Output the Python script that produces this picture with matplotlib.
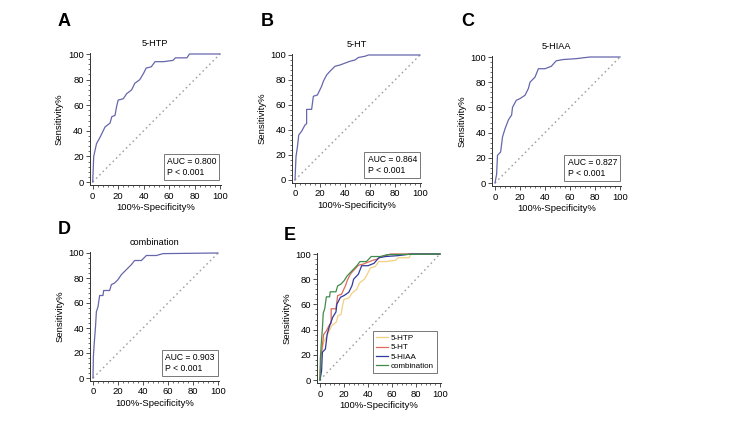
import matplotlib

matplotlib.use("Agg")

import matplotlib.pyplot as plt
from matplotlib.ticker import AutoMinorLocator, MultipleLocator

plt.rcParams["font.family"] = ["Liberation Sans", "DejaVu Sans"]

# ROC curves: 100%-Specificity% (x) vs Sensitivity% (y)
htp_x = [0, 0.8, 3, 5.8, 9.7, 13.6, 15, 17.5, 18.8, 20, 24, 26.7, 30.6, 33, 37, 40, 42,
         46, 49, 55.5, 63, 65, 74, 76, 100]
htp_y = [0, 20, 30, 35, 43, 46, 51, 52, 59, 64, 65, 69, 72, 77, 80, 85, 89, 90, 94, 94,
         95, 97, 97, 100, 100]

ht_x = [0, 0.8, 2, 3, 5.3, 8, 9.3, 9.3, 13.3, 14.7, 17.9, 21.3, 22.7, 25.3, 28, 32, 36,
        44, 48, 50.7, 56, 58.7, 100]
ht_y = [0, 18.7, 27, 36, 39, 44, 45, 56.5, 56.5, 67, 68, 75, 79, 84, 87, 91, 92, 95, 96,
        98, 99, 100, 100]

hiaa_x = [0, 1.3, 2, 4.5, 6, 8, 10.7, 13.3, 14, 17, 20, 24, 26.7, 28, 32, 34.7, 40, 45,
          49, 54.7, 65, 76, 100]
hiaa_y = [0, 7, 22, 24.6, 36.5, 43, 50, 54, 60, 65.6, 67, 69.6, 75, 80, 84, 90.7, 90.7,
          92.6, 97, 98, 98.7, 100, 100]

comb_x = [0, 0.3, 1, 2, 2.7, 4, 5.3, 8, 8.5, 13.3, 14.7, 17.3, 20, 22.7, 26.7, 30.7,
          33.3, 38.7, 42.7, 50.7, 56, 100]
comb_y = [0, 17, 28, 41, 53, 57, 66, 66, 70, 70, 74.7, 76, 78.7, 82.7, 86.7, 90.7, 94,
          94, 98, 98, 99.5, 100]

names = ["5-HTP", "5-HT", "5-HIAA", "combination"]
curves_x = [htp_x, ht_x, hiaa_x, comb_x]
curves_y = [htp_y, ht_y, hiaa_y, comb_y]
auc_values = ["0.800", "0.864", "0.827", "0.903"]
p_text = "P < 0.001"
panel_letters = ["A", "B", "C", "D", "E"]

ROC_COLOR = "#6666ad"
E_COLORS = ["#f4cf80", "#e06a5c", "#2f3a9c", "#3f8c4a"]
XLIM = (-2.2, 100.5)
YLIM = (-2.6, 101)

W, H = 755, 421
fig = plt.figure(figsize=(W / 100, H / 100), dpi=100)


def add_panel(x0, x100, y0, y100):
    # pixel positions of data 0 and 100 -> axes rectangle in figure fraction
    sx = (x100 - x0) / 100.0
    sy = (y0 - y100) / 100.0
    left = x0 + XLIM[0] * sx
    right = x0 + XLIM[1] * sx
    bottom = y0 - YLIM[0] * sy
    top = y0 - YLIM[1] * sy
    ax = fig.add_axes([left / W, 1 - bottom / H, (right - left) / W, (bottom - top) / H])
    ax.set_xlim(*XLIM)
    ax.set_ylim(*YLIM)
    for side in ("top", "right"):
        ax.spines[side].set_visible(False)
    for side in ("left", "bottom"):
        ax.spines[side].set_linewidth(0.7)
        ax.spines[side].set_color("#333333")
    ax.xaxis.set_major_locator(MultipleLocator(20))
    ax.yaxis.set_major_locator(MultipleLocator(20))
    ax.xaxis.set_minor_locator(AutoMinorLocator(5))
    ax.yaxis.set_minor_locator(AutoMinorLocator(5))
    ax.tick_params(which="major", length=3, width=0.6, labelsize=6.8, pad=1.5, color="#333333")
    ax.tick_params(which="minor", length=1.6, width=0.5, color="#333333")
    ax.plot([0, 100], [0, 100], color="#a0a0a0", lw=1.0, ls=(0, (1.2, 2.2)))
    ax.set_xlabel("100%-Specificity%", fontsize=6.8, labelpad=1.5)
    ax.set_ylabel("Sensitivity%", fontsize=6.8, labelpad=3)
    return ax


boxes = [
    (92.7, 220, 182, 54),
    (295, 420, 180, 55),
    (495, 620, 183, 57),
    (93, 218, 378, 253),
]

for i, (x0, x100, y0, y100) in enumerate(boxes):
    ax = add_panel(x0, x100, y0, y100)
    ax.plot(curves_x[i], curves_y[i], color=ROC_COLOR, lw=0.9)
    ax.set_title(names[i], fontsize=6.6, pad=5)
    ax.text(
        58, 4.2, f"AUC = {auc_values[i]}\n{p_text}",
        fontsize=6.2, ha="left", va="bottom", linespacing=1.2,
        bbox=dict(boxstyle="square,pad=0.35", fc="white", ec="#777777", lw=0.7),
    )

ax_e = add_panel(320, 440, 380, 254)
for i in range(4):
    ax_e.plot(curves_x[i], curves_y[i], color=E_COLORS[i], lw=0.9, label=names[i])
ax_e.legend(
    loc="lower right", bbox_to_anchor=(97.5, 5.5), bbox_transform=ax_e.transData,
    borderaxespad=0, fontsize=5.8, handlelength=1.4, handletextpad=0.4, borderpad=0.4,
    labelspacing=0.2, fancybox=False, edgecolor="#777777", framealpha=1,
).get_frame().set_linewidth(0.7)

letter_pos = [(64, 21), (267, 21), (468, 21), (64, 229), (290, 236)]
for letter, (px, py) in zip(panel_letters, letter_pos):
    fig.text(px / W, 1 - py / H, letter, fontsize=13, fontweight="bold", ha="center", va="center")

fig.savefig("out.png", dpi=100, facecolor="white")
